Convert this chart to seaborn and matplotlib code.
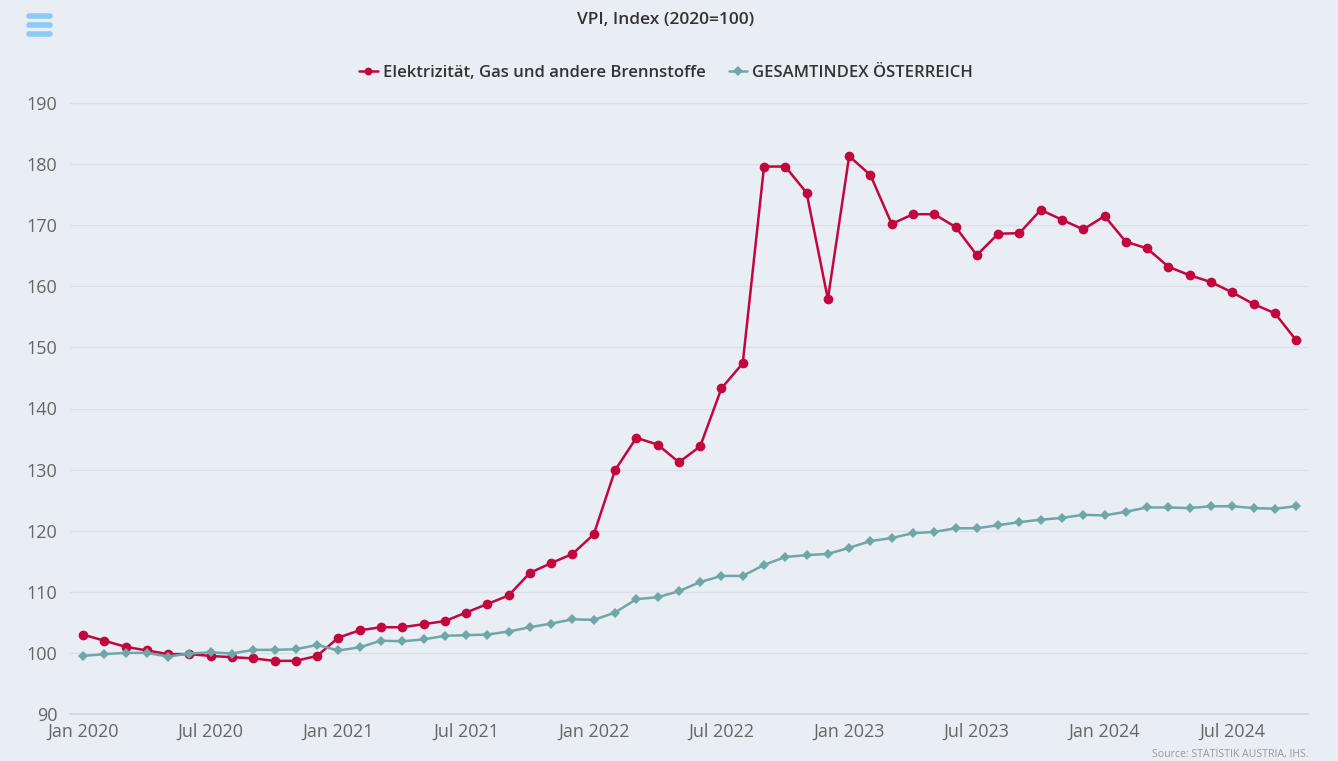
import matplotlib
matplotlib.use("Agg")
import matplotlib.pyplot as plt
from matplotlib.lines import Line2D
import pandas as pd
import seaborn as sns

# monthly index values, Jan 2020 - Oct 2024
months = pd.date_range("2020-01-01", "2024-10-01", freq="MS")

energie = [
    103.0, 102.0, 101.0, 100.4, 99.8, 99.8, 99.5, 99.3, 99.1, 98.7, 98.7, 99.5,
    102.5, 103.7, 104.2, 104.2, 104.7, 105.2, 106.6, 108.0, 109.4, 113.1, 114.7, 116.2,
    119.4, 129.9, 135.2, 134.1, 131.2, 133.8, 143.3, 147.4, 179.6, 179.6, 175.3, 157.9,
    181.3, 178.2, 170.2, 171.8, 171.8, 169.7, 165.1, 168.6, 168.7, 172.5, 170.9, 169.3,
    171.5, 167.3, 166.2, 163.2, 161.8, 160.7, 159.0, 157.1, 155.6, 151.2,
]
gesamt = [
    99.5, 99.8, 100.0, 100.0, 99.4, 99.9, 100.1, 99.9, 100.5, 100.5, 100.6, 101.3,
    100.4, 100.9, 102.0, 101.9, 102.2, 102.8, 102.9, 103.0, 103.5, 104.2, 104.8, 105.5,
    105.4, 106.6, 108.8, 109.1, 110.1, 111.6, 112.6, 112.6, 114.4, 115.7, 116.0, 116.2,
    117.2, 118.3, 118.8, 119.6, 119.8, 120.4, 120.4, 120.9, 121.4, 121.8, 122.1, 122.6,
    122.5, 123.1, 123.8, 123.8, 123.7, 124.0, 124.0, 123.7, 123.6, 124.0,
]
names = ["Elektrizität, Gas und andere Brennstoffe", "GESAMTINDEX ÖSTERREICH"]
colors = ["#c2063f", "#6fa7a6"]

tick_pos = list(range(0, 58, 6))
tick_labels = [f"{'Jan' if m.month == 1 else 'Jul'} {m.year}" for m in months[::6]]

df = pd.DataFrame({"t": range(len(months)), names[0]: energie, names[1]: gesamt})
long = df.melt(id_vars="t", var_name="serie", value_name="wert")

bg = "#e9edf4"
sns.set_theme(style="white")
plt.rcParams["font.family"] = ["Open Sans", "DejaVu Sans"]

fig = plt.figure(figsize=(13.38, 7.61), dpi=100)
fig.patch.set_facecolor(bg)
ax = fig.add_axes([70 / 1338, 1 - 714 / 761, (1308 - 70) / 1338, (714 - 103) / 761])
ax.set_facecolor(bg)

sns.lineplot(data=long, x="t", y="wert", hue="serie", style="serie",
             palette=colors, markers=["o", "D"], dashes=False,
             markersize=7, linewidth=1.8, markeredgewidth=0, ax=ax)
# markers a bit smaller for the total index
for ln in ax.lines[1:2]:
    ln.set_markersize(5)

ax.set_xlim(-0.61, 57.56)
ax.set_ylim(90, 190)
ax.set_yticks(range(90, 191, 10))
ax.set_xticks(tick_pos)
ax.set_xticklabels(tick_labels)
ax.grid(axis="y", color="#dbe0e8", linewidth=1)
ax.set_xlabel("")
ax.set_ylabel("")
for s in ["top", "right", "left"]:
    ax.spines[s].set_visible(False)
ax.spines["bottom"].set_color("#ccd6eb")
ax.tick_params(axis="x", length=9, width=1, color="#ccd6eb", labelsize=13,
               labelcolor="#666666", pad=-3, direction="out")
ax.tick_params(axis="y", length=0, labelsize=13, labelcolor="#666666", pad=9)
for lab in ax.get_yticklabels():
    lab.set_horizontalalignment("right")

handles, labels = ax.get_legend_handles_labels()
ax.legend_.remove()
fig.legend(handles, labels, loc="center", bbox_to_anchor=(666 / 1338, 1 - 73 / 761),
           ncol=2, frameon=False, handlelength=1.1, handletextpad=0.3, markerscale=0.8,
           columnspacing=1.4, labelcolor="#333333", prop={"weight": "semibold", "size": 12})

fig.text(666 / 1338, 1 - 20 / 761, "VPI, Index (2020=100)", ha="center", va="center",
         fontsize=12.5, color="#333333", weight="semibold")
fig.text(1308 / 1338, 1 - 754 / 761, "Source: STATISTIK AUSTRIA, IHS.", ha="right",
         va="center", fontsize=7.6, color="#999999")

# menu icon
for yy in (16, 25, 34):
    fig.add_artist(Line2D([29 / 1338, 50 / 1338], [1 - yy / 761, 1 - yy / 761],
                          color="#8ccbf5", linewidth=4, solid_capstyle="round"))

fig.savefig("out.png", dpi=100, facecolor=bg)
